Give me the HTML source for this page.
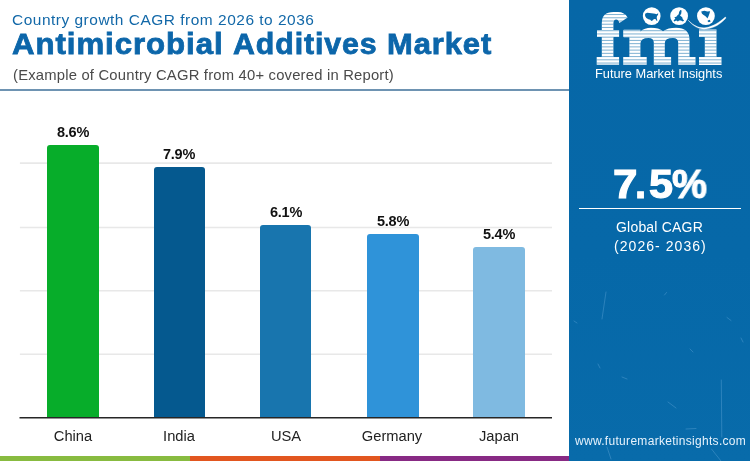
<!DOCTYPE html>
<html>
<head>
<meta charset="utf-8">
<style>
html,body{margin:0;padding:0;}
body{width:750px;height:461px;position:relative;overflow:hidden;background:#fff;font-family:"Liberation Sans",sans-serif;}
.t{position:absolute;white-space:nowrap;transform-origin:0 0;line-height:1;will-change:transform;}
#l1{left:12px;top:11.5px;font-size:15px;color:#1268a8;letter-spacing:0.5px;transform:scaleX(1.03);}
.l2{top:28.5px;font-size:30px;font-weight:700;color:#0c66aa;letter-spacing:0.9px;transform:scaleX(1.03);-webkit-text-stroke:0.8px #0c66aa;}
#l3{left:12.5px;top:68px;font-size:14.8px;color:#4a4a4a;letter-spacing:0.2px;transform:scaleX(1.0);}
#hr{position:absolute;left:0;top:89px;width:570px;height:2px;background:#6e93b2;}
.grid{position:absolute;left:20px;width:532px;height:1.5px;background:#e9e9e9;}
#axis{position:absolute;left:19.5px;width:532.5px;top:416.9px;height:1.5px;background:#262626;}
.bar{position:absolute;width:52px;border-radius:3px 3px 0 0;}
.val{position:absolute;width:80px;text-align:center;font-weight:700;font-size:14.5px;letter-spacing:-0.2px;color:#111;line-height:1;will-change:transform;}
.cat{position:absolute;width:100px;text-align:center;font-size:14.7px;color:#222;line-height:1;top:429.3px;will-change:transform;}
#panel{position:absolute;left:569px;top:0;width:181px;height:461px;background:linear-gradient(#0667a7 0%,#0668a8 55%,#086baa 100%);}
.strip{position:absolute;top:456px;height:5px;}
.w{color:#fff;}
.big{top:164px;font-size:40px;font-weight:700;-webkit-text-stroke:1.1px #fff;}
</style>
</head>
<body>
<div id="l1" class="t">Country growth CAGR from 2026 to 2036</div>
<div id="l2a" class="t l2" style="left:12.3px;transform:scaleX(1.04)">Antimicrobial</div>
<div id="l2b" class="t l2" style="left:232.8px;transform:scaleX(1.01)">Additives</div>
<div id="l2c" class="t l2" style="left:387.3px">Market</div>
<div id="l3" class="t">(Example of Country CAGR from 40+ covered in Report)</div>
<div id="hr"></div>


<svg style="position:absolute;left:0;top:150px" width="570" height="280" viewBox="0 150 570 280">
  <g stroke="#e8e8e8" stroke-width="1.6">
    <line x1="19.9" x2="552" y1="163.1" y2="163.1"/>
    <line x1="19.9" x2="552" y1="227.5" y2="227.5"/>
    <line x1="19.9" x2="552" y1="290.8" y2="290.8"/>
    <line x1="19.9" x2="552" y1="354.3" y2="354.3"/>
  </g>
</svg>
<div class="bar" style="left:47.1px;width:51.9px;top:145.2px;height:272.8px;background:#07ad2a"></div>
<div class="bar" style="left:153.5px;width:51.7px;top:167.2px;height:250.8px;background:#05598f"></div>
<div class="bar" style="left:259.8px;width:51.7px;top:225.1px;height:192.9px;background:#1875ae"></div>
<div class="bar" style="left:367px;width:51.8px;top:234px;height:184px;background:#2f93d9"></div>
<div class="bar" style="left:473.2px;width:51.6px;top:246.7px;height:171.3px;background:#7fbae1"></div>
<svg style="position:absolute;left:0;top:410px" width="570" height="14" viewBox="0 410 570 14"><line x1="19.5" x2="552" y1="417.7" y2="417.7" stroke="#262626" stroke-width="1.6"/></svg>

<div class="val" style="left:33px;top:124.6px">8.6%</div>
<div class="val" style="left:139.3px;top:146.6px">7.9%</div>
<div class="val" style="left:245.7px;top:204.6px">6.1%</div>
<div class="val" style="left:353px;top:213.6px">5.8%</div>
<div class="val" style="left:459px;top:227px">5.4%</div>

<div class="cat" style="left:23px">China</div>
<div class="cat" style="left:129px">India</div>
<div class="cat" style="left:236px">USA</div>
<div class="cat" style="left:342px">Germany</div>
<div class="cat" style="left:449px">Japan</div>

<div class="strip" style="left:0;width:190px;background:#88bb40"></div>
<div class="strip" style="left:190px;width:190px;background:#e2561f"></div>
<div class="strip" style="left:380px;width:190px;background:#882a84"></div>

<div id="panel">
  <div class="t w big" id="b1" style="left:44px;transform:scaleX(1.1)">7</div>
  <div class="t w big" id="b2" style="left:65.5px;transform:scaleX(1.0)">.</div>
  <div class="t w big" id="b3" style="left:79.8px;transform:scaleX(1.08)">5</div>
  <div class="t w big" id="b4" style="left:102.6px;transform:scaleX(0.985)">%</div>
  <div style="position:absolute;left:10px;top:207.7px;width:162px;height:1.4px;background:#fff"></div>
  <svg style="position:absolute;left:0;top:270px" width="181" height="191" viewBox="569 270 181 191" fill="none" stroke="#9fd0f5" stroke-opacity="0.28" stroke-width="0.9" stroke-linecap="round"><path d="M606,292 L602,319 M721.3,380 L721.8,437 M664.5,295 L666.5,292.5 M727,317.5 L731,320.5 M607,447 L611,459 M711.5,449 L721,461 M668,402 L676,408 M686,429 L696,428.5 M574,321 L577,323 M622,377 L627,379 M690,349 L693,352 M598,364 L600,368 M741,338 L743,342"/></svg>
  <div class="t w" id="g1" style="left:47px;top:220px;font-size:14px;letter-spacing:0.2px">Global CAGR</div>
  <div class="t w" id="g2" style="left:45px;top:239px;font-size:14px;letter-spacing:1.05px">(2026- 2036)</div>
  <div class="t w" id="url" style="left:6px;top:435px;font-size:12px;letter-spacing:0.3px;color:#e6f2fc">www.futuremarketinsights.com</div>
  <div class="t w" id="fmi" style="left:26px;top:68px;font-size:12.8px;">Future Market Insights</div>
</div>

<svg id="logo" style="position:absolute;left:590px;top:0" width="140" height="70" viewBox="590 0 140 70">
  <defs>
    <clipPath id="lc">
      <!-- f -->
      <path d="M601.8,30.5 L601.8,23 Q601.8,12.1 613.5,12.1 L618,12.1 Q624.5,12.1 627.6,17.6 L619.4,23 Q618.6,19.4 616.2,19.4 Q613.4,19.4 613.4,23.5 L613.4,30.5 Z"/>
      <rect x="601.8" y="29.9" width="11.6" height="28"/>
      <rect x="597" y="29.9" width="22.1" height="7"/>
      <rect x="596.7" y="56.9" width="22.4" height="7.9"/>
      <!-- m -->
      <rect x="623.2" y="29.8" width="17.2" height="7.4" rx="0.8"/>
      <rect x="629.4" y="29.8" width="11" height="28"/>
      <rect x="623.2" y="56.9" width="23.5" height="7.9"/>
      <path d="M640.4,31.5 Q644.5,27.8 651,27.8 Q659,27.8 663,31.2 Q668,27.8 676,27.8 Q689.5,27.8 689.5,40 L689.5,58 L678.2,58 L678.2,42.5 Q678.2,37.9 673,37.9 Q664.8,37.9 664.8,43 L664.8,58 L653.8,58 L653.8,42.5 Q653.8,37.9 648.5,37.9 Q640.4,37.9 640.4,43.5 Z"/>
      <rect x="653.8" y="56.9" width="17.3" height="7.9"/>
      <rect x="678.2" y="56.9" width="17.3" height="7.9"/>
      <!-- i -->
      <rect x="699" y="29.6" width="17.5" height="7.4"/>
      <rect x="704.8" y="29.6" width="11.7" height="28"/>
      <rect x="699" y="57" width="22.5" height="8"/>
    </clipPath>
  </defs>
  <g clip-path="url(#lc)">
    <rect x="590" y="0" width="140" height="70" fill="#fff"/>
    <g stroke="#0668a8" stroke-opacity="0.72" stroke-width="0.72">
      <line x1="590" x2="730" y1="11.30" y2="11.30"/>
      <line x1="590" x2="730" y1="14.54" y2="14.54"/>
      <line x1="590" x2="730" y1="17.77" y2="17.77"/>
      <line x1="590" x2="730" y1="21.00" y2="21.00"/>
      <line x1="590" x2="730" y1="24.24" y2="24.24"/>
      <line x1="590" x2="730" y1="27.47" y2="27.47"/>
      <line x1="590" x2="730" y1="30.71" y2="30.71"/>
      <line x1="590" x2="730" y1="33.95" y2="33.95"/>
      <line x1="590" x2="730" y1="37.18" y2="37.18"/>
      <line x1="590" x2="730" y1="40.41" y2="40.41"/>
      <line x1="590" x2="730" y1="43.65" y2="43.65"/>
      <line x1="590" x2="730" y1="46.88" y2="46.88"/>
      <line x1="590" x2="730" y1="50.12" y2="50.12"/>
      <line x1="590" x2="730" y1="53.35" y2="53.35"/>
      <line x1="590" x2="730" y1="56.59" y2="56.59"/>
      <line x1="590" x2="730" y1="59.82" y2="59.82"/>
      <line x1="590" x2="730" y1="63.06" y2="63.06"/>
      <line x1="590" x2="730" y1="66.30" y2="66.30"/>
    </g>
  </g>
  <!-- globes -->
  <circle cx="651.7" cy="16.1" r="8.9" fill="#fff"/>
  <circle cx="679.1" cy="16.1" r="8.9" fill="#fff"/>
  <circle cx="705.9" cy="16.1" r="8.9" fill="#fff"/>
  <!-- US -->
  <path d="M645.1,13.7 L647.2,12.8 L651.5,13.3 L655.2,13.7 L656.4,14.3 L658.2,13.3 L658.0,14.9 L657.0,16.1 L656.7,18.0 L657.4,20.4 L656.7,21.0 L655.8,19.2 L654.0,18.9 L652.5,20.4 L651.3,21.0 L650.3,19.8 L648.4,19.2 L646.3,18.0 L645.1,16.1 Z" fill="#0668a8"/>
  <!-- Europe -->
  <path d="M680.3,10.0 L681.6,10.6 L681.2,13.7 L680.0,15.5 L682.2,17.3 L682.8,19.2 L684.1,20.4 L682.9,21.6 L680.9,20.4 L679.1,20.4 L677.9,21.6 L676.3,20.4 L674.3,21.6 L673.6,20.4 L675.4,18.6 L674.3,17.3 L676.3,16.7 L677.5,15.3 L678.7,14.3 L679.1,12.1 Z" fill="#0668a8"/>
  <!-- Asia -->
  <path d="M701.2,11.6 L704.3,10.8 L707.3,11.6 L710.1,11.2 L709.4,13.7 L708.6,16.1 L707.4,18.6 L706.5,17.3 L705.2,16.1 L703.6,14.9 L702.0,13.7 Z M707.7,20.4 L709.8,19.8 L710.6,21.4 L708.9,22.2 L707.7,21.6 Z" fill="#0668a8"/>
  <!-- swoosh -->
  <path d="M688.1,20.1 C693.5,26.9 699.5,29.7 706,29.1 C714,28.3 721,24 726.2,17.8 L725.2,17 C720,22 713,26.3 706,27.6 C700,28.5 694,26.2 688.1,20.1 Z" fill="#fff" stroke="#fff" stroke-width="0.3"/>
</svg>
</body>
</html>
